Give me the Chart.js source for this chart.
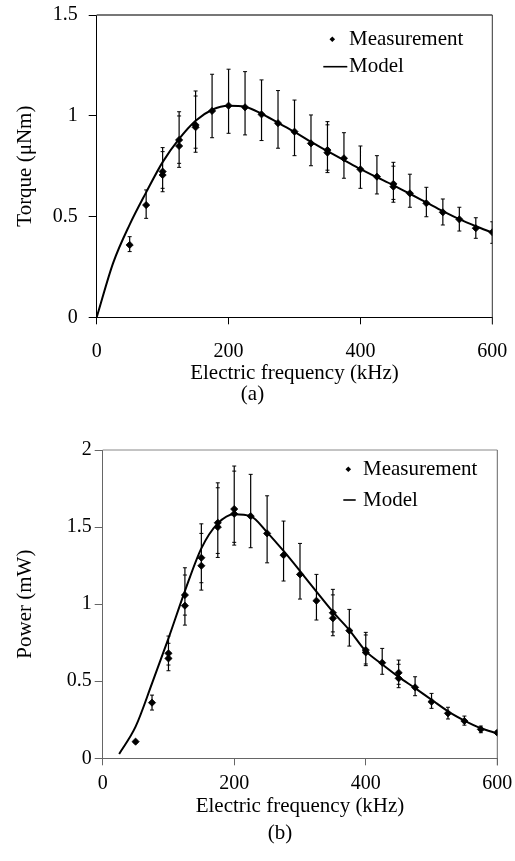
<!DOCTYPE html>
<html><head><meta charset="utf-8">
<script src="https://cdn.jsdelivr.net/npm/chart.js@4"></script>
<style>
html,body{margin:0;padding:0;background:#fff;width:515px;height:861px;overflow:hidden;position:relative;font-family:"Liberation Serif","Times New Roman",serif;}
canvas{position:absolute;left:0;}
#c1{top:0}
#c2{top:430px}
.cap{position:absolute;font-size:21px;line-height:1;transform:translate(-50%,-50%);color:#000;white-space:nowrap}
</style></head><body>
<canvas id="c1" width="515" height="386"></canvas>
<canvas id="c2" width="515" height="431"></canvas>
<div class="cap" style="left:252.5px;top:393.3px">(a)</div>
<div class="cap" style="left:280px;top:832px">(b)</div>
<script>
// ---- data ----
const freqTicks = [0, 200, 400, 600];
const torqueTicks = [0, 0.5, 1, 1.5];
const powerTicks = [0, 0.5, 1, 1.5, 2];

const torqueMeasX   = [50,75,100,100,125,125,150,150,175,200,225,250,275,300,325,350,350,375,400,425,450,450,475,500,525,550,575,600];
const torqueMeasY   = [0.359,0.557,0.723,0.706,0.880,0.850,0.954,0.943,1.024,1.050,1.042,1.007,0.963,0.921,0.863,0.830,0.817,0.789,0.734,0.698,0.662,0.648,0.615,0.566,0.521,0.486,0.442,0.422];
const torqueErrLow  = [0.326,0.491,0.640,0.623,0.764,0.744,0.839,0.819,0.891,0.913,0.905,0.877,0.839,0.802,0.752,0.730,0.718,0.690,0.640,0.612,0.585,0.571,0.546,0.499,0.458,0.428,0.392,0.367];
const torqueErrHigh = [0.400,0.632,0.842,0.822,1.020,0.999,1.123,1.098,1.206,1.231,1.219,1.178,1.125,1.078,1.004,0.971,0.955,0.916,0.850,0.802,0.769,0.750,0.710,0.645,0.587,0.546,0.494,0.474];
const torqueModelX  = [0,25,50,75,100,125,150,175,200,225,250,275,300,325,350,375,400,425,450,475,500,525,550,575,600];
const torqueModelY  = [0,0.27,0.46,0.62,0.77,0.885,0.975,1.03,1.05,1.045,1.01,0.965,0.92,0.87,0.825,0.78,0.735,0.695,0.655,0.613,0.57,0.527,0.487,0.452,0.42];

const powerMeasX   = [50,75,100,100,125,125,150,150,175,175,200,200,225,250,275,300,325,350,350,375,400,400,425,450,450,475,500,525,550,575,600];
const powerMeasY   = [0.108,0.361,0.681,0.648,1.059,0.990,1.301,1.249,1.528,1.500,1.617,1.586,1.571,1.459,1.318,1.193,1.022,0.944,0.908,0.828,0.702,0.687,0.620,0.555,0.519,0.460,0.367,0.292,0.242,0.188,0.166];
const powerErrLow  = [0.100,0.313,0.605,0.568,0.929,0.864,1.139,1.091,1.329,1.303,1.401,1.383,1.366,1.268,1.150,1.033,0.897,0.820,0.795,0.728,0.612,0.601,0.545,0.480,0.458,0.406,0.324,0.255,0.215,0.166,0.155];
const powerErrHigh = [0.116,0.410,0.793,0.746,1.236,1.189,1.521,1.459,1.787,1.755,1.896,1.863,1.842,1.703,1.539,1.394,1.193,1.096,1.060,0.966,0.817,0.800,0.713,0.637,0.610,0.529,0.421,0.331,0.274,0.209,0.178];
const powerModelX  = [25,50,75,100,125,150,175,200,225,250,275,300,325,350,375,400,425,450,475,500,525,550,575,600];
const powerModelY  = [0.028,0.205,0.486,0.778,1.085,1.362,1.524,1.584,1.571,1.466,1.345,1.215,1.081,0.95,0.832,0.695,0.61,0.528,0.455,0.38,0.305,0.245,0.195,0.162];

// ---- helpers ----
const FONT = '"Liberation Serif","Times New Roman",serif';
Chart.defaults.color = '#000';
Chart.defaults.font.family = FONT;

function pts(xs, ys){ return xs.map((x,i)=>({x:x, y:ys[i]})); }
function errPts(xs, lo, hi){
  const out = [];
  xs.forEach((x,i)=>{ out.push({x:x,y:lo[i]}); out.push({x:x,y:hi[i]}); out.push({x:x,y:null}); });
  return out;
}

const legendPlugin = {
  id: 'customLegend',
  afterDraw(chart, args, o){
    const ctx = chart.ctx;
    const ds = chart.data.datasets;
    ctx.save();
    ctx.fillStyle = '#000'; ctx.strokeStyle = '#000';
    const r = 2.8;
    ctx.beginPath();
    ctx.moveTo(o.markerX - r, o.y1); ctx.lineTo(o.markerX, o.y1 - r);
    ctx.lineTo(o.markerX + r, o.y1); ctx.lineTo(o.markerX, o.y1 + r);
    ctx.closePath(); ctx.fill();
    ctx.lineWidth = 1.6;
    ctx.beginPath(); ctx.moveTo(o.lineX1, o.y2); ctx.lineTo(o.lineX2, o.y2); ctx.stroke();
    ctx.font = '21px ' + FONT;
    ctx.textBaseline = 'middle'; ctx.textAlign = 'left';
    ctx.fillText(ds[0].label, o.textX, o.y1);
    ctx.fillText(ds[2].label, o.textX, o.y2);
    ctx.restore();
  }
};

const framePlugin = {
  id: 'frame',
  beforeDatasetsDraw(chart, args, o){
    const {ctx, chartArea:a} = chart;
    ctx.save();
    ctx.lineWidth = o.topWidth; ctx.strokeStyle = o.topColor;
    ctx.beginPath(); ctx.moveTo(a.left, a.top); ctx.lineTo(a.right, a.top); ctx.stroke();
    ctx.lineWidth = 1; ctx.strokeStyle = o.rightColor;
    ctx.beginPath(); ctx.moveTo(a.right, a.top); ctx.lineTo(a.right, a.bottom + 7); ctx.stroke();
    ctx.restore();
  }
};

function makeChart(id, cfg){
  return new Chart(document.getElementById(id), {
    type: 'scatter',
    data: {
      datasets: [
        { label: 'Measurement', data: pts(cfg.mx, cfg.my), showLine: false,
          pointStyle: 'rectRot', pointRadius: 3.6, pointBackgroundColor: '#000',
          pointBorderColor: '#000', pointBorderWidth: 0.8 },
        { label: 'err', data: errPts(cfg.mx, cfg.lo, cfg.hi), showLine: true, spanGaps: false,
          borderColor: '#000', borderWidth: 1.2, pointStyle: 'line', pointRadius: 2,
          pointBorderColor: '#000', pointBorderWidth: 1 },
        { label: 'Model', data: pts(cfg.modx, cfg.mody), showLine: true, borderColor: '#000',
          borderWidth: 2, pointRadius: 0, cubicInterpolationMode: 'monotone' }
      ]
    },
    options: {
      responsive: false, animation: false, devicePixelRatio: 1, events: [],
      layout: { padding: cfg.pad },
      plugins: {
        legend: { display: false }, tooltip: { enabled: false },
        customLegend: cfg.legend,
        frame: cfg.frame
      },
      scales: {
        x: {
          type: 'linear', min: 0, max: 600,
          afterBuildTicks: s => { s.ticks = freqTicks.map(v => ({value: v})); },
          afterFit: s => { s.height = cfg.xH; s.paddingLeft = 0; s.paddingRight = 0; },
          ticks: { font: {size: 20, family: FONT}, padding: cfg.xPad, maxRotation: 0, autoSkip: false, color: '#000',
                   callback: v => String(v) },
          grid: { drawOnChartArea: false, drawTicks: true, tickLength: 7, color: cfg.axisColor, lineWidth: 1 },
          border: { display: true, color: cfg.axisColor, width: 1 },
          title: { display: true, text: 'Electric frequency (kHz)', font: {size: 21, family: FONT}, padding: {top: 0, bottom: 0}, color: '#000' }
        },
        y: {
          type: 'linear', min: 0, max: cfg.yMax,
          afterBuildTicks: s => { s.ticks = cfg.yTicks.map(v => ({value: v})); },
          afterFit: s => { s.width = cfg.yW; s.paddingTop = 0; s.paddingBottom = 0; },
          ticks: { font: {size: 20, family: FONT}, padding: cfg.yPad, color: '#000',
                   callback: v => String(v) },
          grid: { drawOnChartArea: false, drawTicks: true, tickLength: 8, color: cfg.axisColor, lineWidth: 1 },
          border: { display: true, color: cfg.axisColor, width: 1 },
          title: { display: true, text: cfg.yTitle, font: {size: 21, family: FONT}, padding: {top: 12.4, bottom: 0}, color: '#000' }
        }
      }
    },
    plugins: [legendPlugin, framePlugin]
  });
}

makeChart('c1', {
  mx: torqueMeasX, my: torqueMeasY, lo: torqueErrLow, hi: torqueErrHigh,
  modx: torqueModelX, mody: torqueModelY,
  yMax: 1.5, yTicks: torqueTicks, yTitle: 'Torque (μNm)',
  pad: {left: 0, right: 22.7, top: 15, bottom: 0},
  xH: 68.7, yW: 96.7, xPad: 15, yPad: 11,
  axisColor: '#000',
  legend: {markerX: 332.3, textX: 349, y1: 39.3, y2: 66.7, lineX1: 323.3, lineX2: 347.3},
  frame: {topColor: '#777', topWidth: 1.8, rightColor: '#333'}
});

makeChart('c2', {
  mx: powerMeasX, my: powerMeasY, lo: powerErrLow, hi: powerErrHigh,
  modx: powerModelX, mody: powerModelY,
  yMax: 2, yTicks: powerTicks, yTitle: 'Power (mW)',
  pad: {left: 0, right: 17.7, top: 20, bottom: 41.7},
  xH: 61, yW: 102.7, xPad: 6.5, yPad: 3,
  axisColor: '#666',
  legend: {markerX: 348.3, textX: 363, y1: 39.3, y2: 70, lineX1: 343.3, lineX2: 355.7},
  frame: {topColor: '#888', topWidth: 1, rightColor: '#666'}
});
</script>
</body></html>
